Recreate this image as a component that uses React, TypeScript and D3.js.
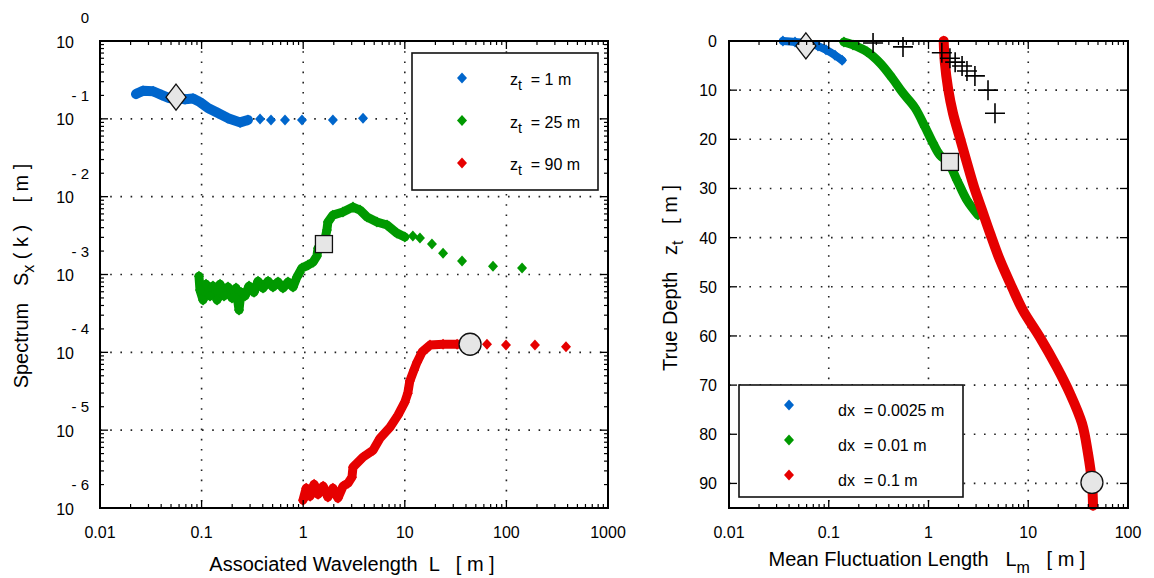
import React from "react";
import * as d3 from "d3";

const BLUE = "#0066cc";
const GREEN = "#009900";
const RED = "#e60000";
const FONT = "'Liberation Sans', Arial, sans-serif";

// ---- left panel: spectrum S_x(k) vs associated wavelength L ----
const blueDense: [number, number][] = [
  [0.0226, 0.208], [0.0265, 0.23], [0.0333, 0.226], [0.0407, 0.202], [0.048, 0.185],
  [0.056, 0.19], [0.0687, 0.178], [0.0823, 0.182], [0.0965, 0.164], [0.1156, 0.138],
  [0.145, 0.119], [0.182, 0.102], [0.239, 0.09], [0.286, 0.0966],
];
const blueTail: [number, number][] = [
  [0.376, 0.0993], [0.482, 0.0966], [0.662, 0.0966], [0.973, 0.0966], [1.96, 0.0966], [3.88, 0.102],
];

const greenDense: [number, number][] = [
  [0.0942, 9.5e-4], [0.0964, 6.3e-4], [0.1033, 4.7e-4], [0.1105, 7.5e-4], [0.121, 5.3e-4],
  [0.1294, 7.1e-4], [0.142, 4.7e-4], [0.1518, 7.5e-4], [0.166, 5.3e-4], [0.182, 6.9e-4],
  [0.199, 5.0e-4], [0.218, 6.7e-4], [0.2335, 3.5e-4], [0.244, 5.9e-4], [0.267, 5.3e-4],
  [0.293, 7.1e-4], [0.328, 5.9e-4], [0.359, 8.2e-4], [0.402, 6.7e-4], [0.451, 8.2e-4],
  [0.504, 6.9e-4], [0.565, 8.0e-4], [0.632, 6.7e-4], [0.708, 8.0e-4], [0.794, 6.9e-4],
  [0.869, 9.3e-4], [0.973, 1.21e-3], [1.114, 1.32e-3], [1.25, 1.44e-3], [1.366, 1.73e-3],
  [1.4, 2.18e-3], [1.6, 2.46e-3], [1.71, 3.72e-3], [1.75, 4.72e-3], [1.96, 5.79e-3],
  [2.46, 6.34e-3], [3.09, 7.35e-3], [3.62, 6.73e-3], [4.25, 5.47e-3], [5.32, 4.72e-3],
  [6.68, 4.32e-3], [8.38, 3.4e-3], [10.0, 3.03e-3],
];
const greenTail: [number, number][] = [
  [12.0, 3.12e-3], [14.1, 2.94e-3], [18.5, 2.46e-3], [23.8, 1.88e-3], [36.6, 1.49e-3],
  [73.8, 1.28e-3], [142.6, 1.21e-3],
];

const redDense: [number, number][] = [
  [0.995, 1.26e-6], [1.07, 1.8e-6], [1.17, 1.42e-6], [1.28, 2.02e-6], [1.4, 1.5e-6],
  [1.57, 1.91e-6], [1.75, 1.38e-6], [1.96, 1.8e-6], [2.2, 1.34e-6], [2.47, 1.91e-6],
  [2.76, 2.08e-6], [3.02, 2.49e-6], [3.09, 3.34e-6], [3.88, 4.5e-6], [4.87, 5.53e-6],
  [5.7, 7.89e-6], [7.15, 1.09e-5], [8.57, 1.56e-5], [10.0, 2.29e-5], [10.7, 2.99e-5],
  [11.2, 4.27e-5], [12.3, 5.9e-5], [13.2, 7.48e-5], [14.8, 1.01e-4], [17.7, 1.24e-4],
  [23.8, 1.27e-4], [32.7, 1.27e-4], [43.9, 1.27e-4],
];
const redTail: [number, number][] = [
  [64.4, 1.27e-4], [99.1, 1.24e-4], [191, 1.24e-4], [386, 1.18e-4],
];

// reference marks (diamond, square, circle) for z_t = 1, 25, 90 m
const leftRefMarks: [number, number][] = [[0.056, 0.19], [1.6, 2.46e-3], [43.9, 1.27e-4]];

const leftXTicks = [0.01, 0.1, 1, 10, 100, 1000];
const leftXLabels = ["0.01", "0.1", "1", "10", "100", "1000"];
const leftYExponents = [0, -1, -2, -3, -4, -5, -6];
const leftLegend = ["1", "25", "90"];

// ---- right panel: true depth z_t vs mean fluctuation length L_m ----
const rBlue: [number, number][] = [
  [0.0347, 0], [0.0459, 0.2], [0.062, 0.5], [0.078, 1.0], [0.0938, 1.8], [0.1155, 2.9], [0.136, 3.9],
];
const rGreen: [number, number][] = [
  [0.142, 0.2], [0.175, 0.8], [0.242, 2.2], [0.327, 4.5], [0.431, 7.5], [0.555, 10.6],
  [0.732, 13.6], [0.923, 17.5], [1.11, 20.8], [1.3, 23.2], [1.57, 24.6], [1.93, 28.3],
  [2.43, 32.4], [3.13, 35.4],
];
const rRed: [number, number][] = [
  [1.42, 0], [1.46, 4.5], [1.57, 9.6], [1.76, 14.7], [2.07, 19.8], [2.43, 24.8], [2.86, 29.7],
  [3.44, 34.4], [4.14, 39.1], [5.21, 44.6], [6.87, 50.1], [8.85, 54.8], [13.1, 60.3],
  [19.4, 66.4], [26.2, 71.7], [34.6, 77.8], [39.7, 83.9], [43.5, 89.8], [44.6, 94.5],
];
const rCrosses: [number, number][] = [
  [0.278, 0.4], [0.555, 1.2], [1.36, 2.4], [1.64, 3.5], [1.85, 4.3], [2.17, 5.1],
  [2.43, 6.1], [2.92, 7.1], [3.95, 10.0], [4.64, 14.7],
];
const rightRefMarks: [number, number][] = [[0.059, 1], [1.64, 24.6], [43.5, 89.8]];

const rightXTicks = [0.01, 0.1, 1, 10, 100];
const rightXLabels = ["0.01", "0.1", "1", "10", "100"];
const rightYTicks = [0, 10, 20, 30, 40, 50, 60, 70, 80, 90];
const rightLegend = ["0.0025", "0.01", "0.1"];

const diamond = (cx: number, cy: number, w: number, h: number) =>
  `M${cx},${cy - h / 2}L${cx + w / 2},${cy}L${cx},${cy + h / 2}L${cx - w / 2},${cy}Z`;

const logMinors = (lo: number, hi: number) => {
  const out: number[] = [];
  for (let e = Math.log10(lo); e < Math.log10(hi); e++)
    for (let k = 2; k <= 9; k++) out.push(k * Math.pow(10, e));
  return out;
};

const GRID = { stroke: "#222", strokeWidth: 1.6, strokeDasharray: "1.6 8.6" };

function Series({ dense, tail, color, x, y, width, curve }: any) {
  const line = d3
    .line<[number, number]>()
    .x((d) => x(d[0]))
    .y((d) => y(d[1]))
    .curve(curve || d3.curveLinear);
  return (
    <g>
      <path d={line(dense) || ""} fill="none" stroke={color} strokeWidth={width}
        strokeLinejoin="round" strokeLinecap="round" />
      {dense.concat(tail || []).map((d: [number, number], i: number) => (
        <path key={i} d={diamond(x(d[0]), y(d[1]), 10, 11)} fill={color} />
      ))}
    </g>
  );
}

function RefMarks({ marks, x, y }: any) {
  const st = { fill: "#e6e6e6", stroke: "#111", strokeWidth: 1.3 };
  const [a, b, c] = marks;
  return (
    <g>
      <path d={diamond(x(a[0]), y(a[1]), 20, 26)} {...st} />
      <rect x={x(b[0]) - 8.5} y={y(b[1]) - 8.5} width={17} height={17} {...st} />
      <circle cx={x(c[0])} cy={y(c[1])} r={11} {...st} />
    </g>
  );
}

function LeftPanel() {
  const x = d3.scaleLog().domain([0.01, 1000]).range([100, 608]);
  const y = d3.scaleLog().domain([1e-6, 1]).range([508, 41]);
  const [x0, x1] = x.range();
  const [y1, y0] = y.range();
  const xMin = logMinors(0.01, 1000);
  const yMin = logMinors(1e-6, 1);
  const colors = [BLUE, GREEN, RED];
  return (
    <g>
      {leftXTicks.slice(1, -1).map((t) => (
        <line key={"gx" + t} x1={x(t)} x2={x(t)} y1={y0} y2={y1} {...GRID} />
      ))}
      {leftYExponents.slice(1, -1).map((e) => (
        <line key={"gy" + e} x1={x0} x2={x1} y1={y(Math.pow(10, e))} y2={y(Math.pow(10, e))} {...GRID} />
      ))}

      <Series dense={blueDense} tail={blueTail} color={BLUE} x={x} y={y} width={10} />
      <Series dense={greenDense} tail={greenTail} color={GREEN} x={x} y={y} width={9} />
      <Series dense={redDense} tail={redTail} color={RED} x={x} y={y} width={9} />
      <RefMarks marks={leftRefMarks} x={x} y={y} />

      {/* legend */}
      <rect x={412} y={53} width={186} height={137} fill="#fff" stroke="#111" strokeWidth={1.6} />
      {leftLegend.map((v, i) => (
        <g key={v}>
          <path d={diamond(462, 78 + i * 42.5, 10, 11)} fill={colors[i]} />
          <text x={510} y={85 + i * 42.5} fontSize={16} fontFamily={FONT} style={{ whiteSpace: "pre" }}>
            z<tspan fontSize={14} dy={5}>t</tspan><tspan dy={-5}>{"  = " + v + " m"}</tspan>
          </text>
        </g>
      ))}

      {/* frame and ticks */}
      <rect x={x0} y={y0} width={x1 - x0} height={y1 - y0} fill="none" stroke="#000" strokeWidth={2} />
      {leftXTicks.map((t) => (
        <g key={"tx" + t}>
          <line x1={x(t)} x2={x(t)} y1={y1} y2={y1 - 8} stroke="#000" strokeWidth={1.3} />
          <line x1={x(t)} x2={x(t)} y1={y0} y2={y0 + 8} stroke="#000" strokeWidth={1.3} />
        </g>
      ))}
      {xMin.map((t) => (
        <g key={"mx" + t}>
          <line x1={x(t)} x2={x(t)} y1={y1} y2={y1 - 4} stroke="#000" strokeWidth={1.2} />
          <line x1={x(t)} x2={x(t)} y1={y0} y2={y0 + 4} stroke="#000" strokeWidth={1.2} />
        </g>
      ))}
      {leftYExponents.map((e) => (
        <g key={"ty" + e}>
          <line x1={x0} x2={x0 + 8} y1={y(Math.pow(10, e))} y2={y(Math.pow(10, e))} stroke="#000" strokeWidth={1.3} />
          <line x1={x1} x2={x1 - 8} y1={y(Math.pow(10, e))} y2={y(Math.pow(10, e))} stroke="#000" strokeWidth={1.3} />
        </g>
      ))}
      {yMin.map((t) => (
        <g key={"my" + t}>
          <line x1={x0} x2={x0 + 4} y1={y(t)} y2={y(t)} stroke="#000" strokeWidth={1.2} />
          <line x1={x1} x2={x1 - 4} y1={y(t)} y2={y(t)} stroke="#000" strokeWidth={1.2} />
        </g>
      ))}

      {/* tick labels */}
      {leftXTicks.map((t, i) => (
        <text key={"lx" + t} x={x(t)} y={538} textAnchor="middle" fontSize={16} fontFamily={FONT}>
          {leftXLabels[i]}
        </text>
      ))}
      {leftYExponents.map((e) => (
        <g key={"ly" + e} fontFamily={FONT}>
          <text x={74} y={y(Math.pow(10, e)) + 6.5} textAnchor="end" fontSize={16}>10</text>
          <text x={89} y={y(Math.pow(10, e)) - 18} textAnchor="end" fontSize={15} style={{ whiteSpace: "pre" }}>
            {e === 0 ? "0" : "- " + Math.abs(e)}
          </text>
        </g>
      ))}

      {/* axis titles */}
      <text x={352} y={571} textAnchor="middle" fontSize={20} fontFamily={FONT} style={{ whiteSpace: "pre" }}>
        {"Associated Wavelength  L   [ m ]"}
      </text>
      <text transform="translate(28,276) rotate(-90)" textAnchor="middle" fontSize={20} fontFamily={FONT}
        style={{ whiteSpace: "pre" }}>
        {"Spectrum   S"}<tspan fontSize={16} dy={6}>x</tspan><tspan dy={-6}>{" ( k )    [ m ]"}</tspan>
      </text>
    </g>
  );
}

function RightPanel() {
  const x = d3.scaleLog().domain([0.01, 100]).range([729, 1128]);
  const y = d3.scaleLinear().domain([0, 95]).range([41, 508]);
  const [x0, x1] = x.range();
  const [y0, y1] = y.range();
  const xMin = logMinors(0.01, 100);
  const colors = [BLUE, GREEN, RED];
  const smooth = d3.curveCatmullRom;
  return (
    <g>
      {rightXTicks.slice(1, -1).map((t) => (
        <line key={"gx" + t} x1={x(t)} x2={x(t)} y1={y0} y2={y1} {...GRID} />
      ))}
      {rightYTicks.slice(1).map((t) => (
        <line key={"gy" + t} x1={x0} x2={x1} y1={y(t)} y2={y(t)} {...GRID} />
      ))}

      <Series dense={rBlue} color={BLUE} x={x} y={y} width={8} curve={smooth} />
      <Series dense={rGreen} color={GREEN} x={x} y={y} width={9} curve={smooth} />
      <Series dense={rRed} color={RED} x={x} y={y} width={10} curve={smooth} />
      {rCrosses.map((d, i) => (
        <path key={i} d={`M${x(d[0]) - 10},${y(d[1])}H${x(d[0]) + 10}M${x(d[0])},${y(d[1]) - 10}V${y(d[1]) + 10}`}
          stroke="#000" strokeWidth={1.6} fill="none" />
      ))}
      <RefMarks marks={rightRefMarks} x={x} y={y} />

      {/* legend */}
      <rect x={739} y={385} width={224} height={112} fill="#fff" stroke="#111" strokeWidth={1.6} />
      {rightLegend.map((v, i) => (
        <g key={v}>
          <path d={diamond(789, 405 + i * 35, 10, 11)} fill={colors[i]} />
          <text x={838} y={416 + i * 35} fontSize={16} fontFamily={FONT} style={{ whiteSpace: "pre" }}>
            {"dx  = " + v + " m"}
          </text>
        </g>
      ))}

      {/* frame and ticks */}
      <rect x={x0} y={y0} width={x1 - x0} height={y1 - y0} fill="none" stroke="#000" strokeWidth={2} />
      {rightXTicks.map((t) => (
        <g key={"tx" + t}>
          <line x1={x(t)} x2={x(t)} y1={y1} y2={y1 - 8} stroke="#000" strokeWidth={1.3} />
          <line x1={x(t)} x2={x(t)} y1={y0} y2={y0 + 8} stroke="#000" strokeWidth={1.3} />
        </g>
      ))}
      {xMin.map((t) => (
        <g key={"mx" + t}>
          <line x1={x(t)} x2={x(t)} y1={y1} y2={y1 - 4} stroke="#000" strokeWidth={1.2} />
          <line x1={x(t)} x2={x(t)} y1={y0} y2={y0 + 4} stroke="#000" strokeWidth={1.2} />
        </g>
      ))}
      {rightYTicks.map((t) => (
        <g key={"ty" + t}>
          <line x1={x0} x2={x0 + 8} y1={y(t)} y2={y(t)} stroke="#000" strokeWidth={1.3} />
          <line x1={x1} x2={x1 - 8} y1={y(t)} y2={y(t)} stroke="#000" strokeWidth={1.3} />
        </g>
      ))}

      {rightXTicks.map((t, i) => (
        <text key={"lx" + t} x={x(t)} y={538} textAnchor="middle" fontSize={16} fontFamily={FONT}>
          {rightXLabels[i]}
        </text>
      ))}
      {rightYTicks.map((t) => (
        <text key={"ly" + t} x={717} y={y(t) + 6} textAnchor="end" fontSize={16} fontFamily={FONT}>
          {t}
        </text>
      ))}

      <text x={927} y={566} textAnchor="middle" fontSize={20} fontFamily={FONT} style={{ whiteSpace: "pre" }}>
        {"Mean Fluctuation Length   L"}<tspan fontSize={16} dy={7}>m</tspan><tspan dy={-7}>{"   [ m ]"}</tspan>
      </text>
      <text transform="translate(677,278) rotate(-90)" textAnchor="middle" fontSize={20} fontFamily={FONT}
        style={{ whiteSpace: "pre" }}>
        {"True Depth   z"}<tspan fontSize={16} dy={6}>t</tspan><tspan dy={-6}>{"   [ m ]"}</tspan>
      </text>
    </g>
  );
}

export default function App() {
  return (
    <div style={{ position: "fixed", left: 0, top: 0 }}>
      <svg width={1154} height={578} style={{ display: "block", background: "#fff" }}>
        <LeftPanel />
        <RightPanel />
      </svg>
    </div>
  );
}
